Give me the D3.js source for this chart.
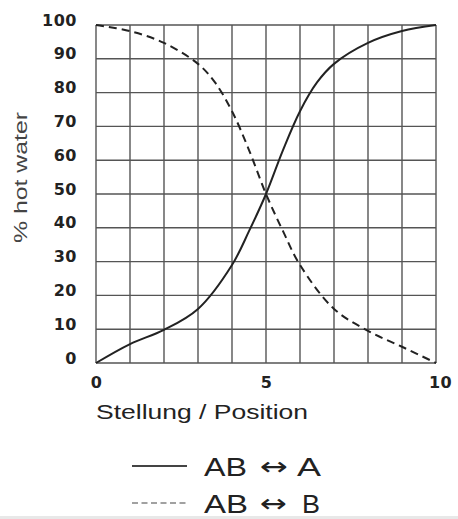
<!DOCTYPE html>
<html><head><meta charset="utf-8">
<script src="https://cdn.jsdelivr.net/npm/d3@7"></script>
<style>body{margin:0;background:#fff}svg{display:block}</style>
</head><body>
<svg id="c" width="458" height="519"></svg>
<script>
const xTicks = [0, 5, 10];
const yTicks = [0, 10, 20, 30, 40, 50, 60, 70, 80, 90, 100];
const posA = [0, 1, 2, 3, 4, 4.5, 5, 5.5, 6, 6.5, 7, 8, 9, 10];
const valA = [0, 5.6, 9.8, 16, 29, 39, 50, 63, 74.5, 83, 88.5, 94.7, 98.2, 100];
const posB = [0, 1, 2, 3, 3.5, 4, 4.5, 5, 5.5, 6, 7, 8, 9, 10];
const valB = [100, 98.2, 94.7, 88.5, 83, 74.5, 63, 50, 39, 29, 16, 9.5, 4.8, 0];
const legendParts = [["AB", "\u2194", "A"], ["AB", "\u2194", "B"]];

const svg = d3.select("#c");
const x = d3.scaleLinear().domain([0, 10]).range([96, 436]);
const y = d3.scaleLinear().domain([0, 100]).range([363, 25]);
const sans = "Liberation Sans, Arial, sans-serif";

// grid
const g = svg.append("g");
g.selectAll("line.v").data(d3.range(0, 11)).join("line")
  .attr("x1", d => x(d)).attr("x2", d => x(d)).attr("y1", y(0)).attr("y2", y(100))
  .attr("stroke", "#555").attr("stroke-width", 1.4);
g.selectAll("line.h").data(yTicks).join("line")
  .attr("x1", x(0)).attr("x2", x(10)).attr("y1", d => y(d)).attr("y2", d => y(d))
  .attr("stroke", "#555").attr("stroke-width", 1.4);

// axes labels
const yAxis = d3.axisLeft(y).tickValues(yTicks).tickSize(0).tickPadding(0);
const ya = svg.append("g").attr("transform", "translate(77,-5)").call(yAxis);
ya.select(".domain").remove();
ya.selectAll("text").attr("font-family", "DejaVu Sans, sans-serif")
  .attr("font-size", 16).attr("font-weight", "bold").attr("letter-spacing", 0.5).attr("fill", "#222");

const xAxis = d3.axisBottom(x).tickValues(xTicks).tickSize(0).tickPadding(0);
const xa = svg.append("g").attr("transform", "translate(0,376.5)").call(xAxis);
xa.select(".domain").remove();
xa.selectAll("text").attr("font-family", "DejaVu Sans, sans-serif")
  .attr("font-size", 16).attr("font-weight", "bold").attr("letter-spacing", 0.5).attr("fill", "#222");
xa.selectAll(".tick").filter(d => d === 10).select("text").attr("dx", 4);

svg.append("text").attr("x", 96).attr("y", 419)
  .attr("font-family", sans).attr("font-size", 21)
  .attr("textLength", 212).attr("lengthAdjust", "spacingAndGlyphs")
  .attr("fill", "#222").text("Stellung / Position");

svg.append("text").attr("transform", "translate(27,243) rotate(-90)")
  .attr("font-family", sans).attr("font-size", 18)
  .attr("textLength", 131).attr("lengthAdjust", "spacingAndGlyphs")
  .attr("fill", "#444").text("% hot water");

// curves
const line = d3.line().x(d => x(d[0])).y(d => y(d[1])).curve(d3.curveCatmullRom.alpha(0.5));
svg.append("path").datum(posA.map((p, i) => [p, valA[i]])).attr("d", line)
  .attr("fill", "none").attr("stroke", "#222").attr("stroke-width", 2);
svg.append("path").datum(posB.map((p, i) => [p, valB[i]])).attr("d", line)
  .attr("fill", "none").attr("stroke", "#222").attr("stroke-width", 2).attr("stroke-dasharray", "8,5");

// legend
const lg = svg.append("g");
const partX = [[204, 260, 297], [204, 260, 302]];
const partW = [[43, 28, 24], [44, 27, 18]];
[0, 1].forEach(i => {
  const yy = 466 + i * 37;
  lg.append("line").attr("x1", 132).attr("x2", 187).attr("y1", yy).attr("y2", yy)
    .attr("stroke", "#444").attr("stroke-width", i ? 1.2 : 1.8)
    .attr("stroke-dasharray", i ? "6,3.5" : null);
  const t = lg.append("text").attr("y", yy + 10)
    .attr("font-family", sans).attr("font-size", 25).attr("fill", "#222");
  legendParts[i].forEach((p, j) => {
    t.append("tspan").attr("x", partX[i][j])
      .attr("font-family", j === 1 ? "DejaVu Sans, sans-serif" : sans)
      .attr("dy", j === 1 ? -1 : (j === 2 ? 1 : 0))
      .attr("textLength", partW[i][j]).attr("lengthAdjust", "spacingAndGlyphs")
      .text(p);
  });
});

svg.append("rect").attr("x", 0).attr("y", 516).attr("width", 458).attr("height", 3).attr("fill", "#e8e8e8");
</script>
</body></html>
